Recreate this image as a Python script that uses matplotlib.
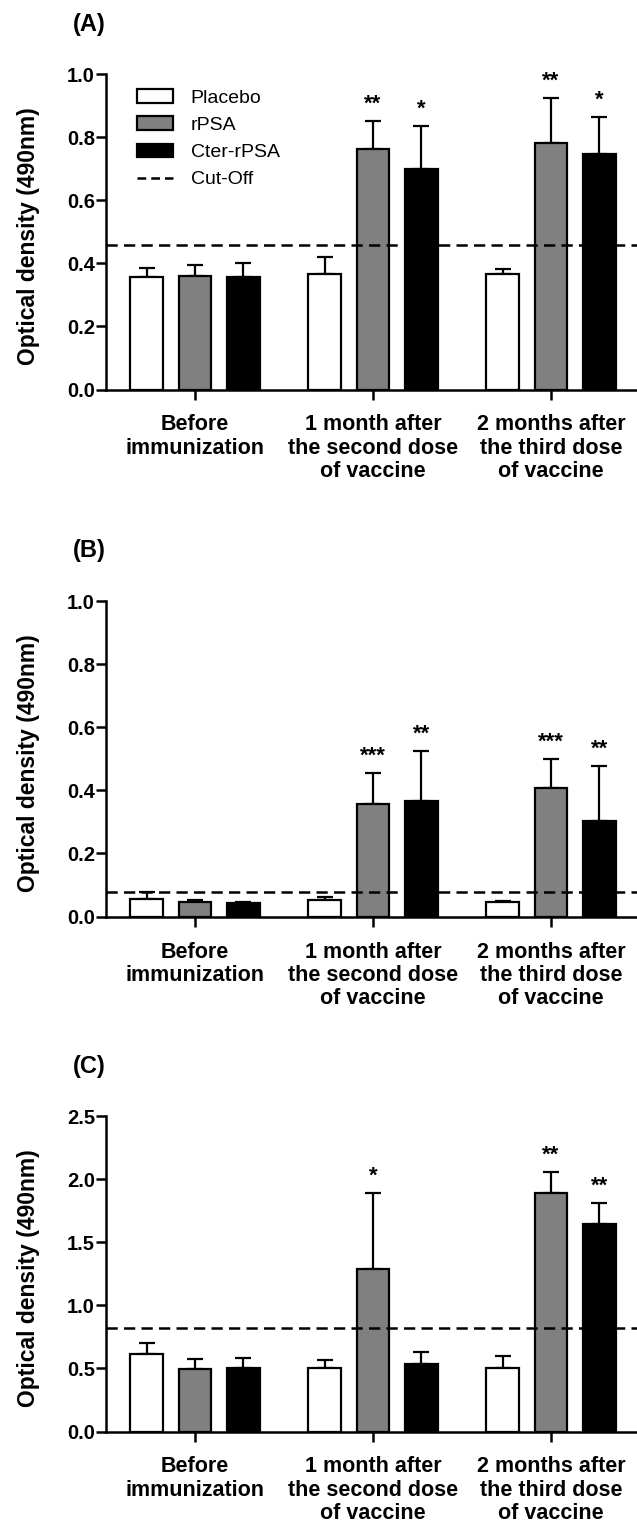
import matplotlib
matplotlib.use("Agg")
import matplotlib.pyplot as plt
from matplotlib.patches import Patch
from matplotlib.lines import Line2D
import numpy as np

plt.rcParams['font.family'] = ['Liberation Sans', 'DejaVu Sans']

groups = ["Before\nimmunization",
          "1 month after\nthe second dose\nof vaccine",
          "2 months after\nthe third dose\nof vaccine"]
series = ["Placebo", "rPSA", "Cter-rPSA"]
colors = ["white", "#808080", "black"]

# panel A
a_placebo = [0.357, 0.366, 0.366]
a_placebo_err = [0.027, 0.053, 0.015]
a_rpsa = [0.360, 0.762, 0.782]
a_rpsa_err = [0.036, 0.090, 0.142]
a_cter = [0.358, 0.699, 0.746]
a_cter_err = [0.042, 0.137, 0.119]
a_cutoff = 0.458
a_stars_rpsa = ["", "**", "**"]
a_stars_cter = ["", "*", "*"]

# panel B
b_placebo = [0.056, 0.053, 0.045]
b_placebo_err = [0.021, 0.008, 0.005]
b_rpsa = [0.045, 0.356, 0.407]
b_rpsa_err = [0.008, 0.098, 0.092]
b_cter = [0.042, 0.366, 0.303]
b_cter_err = [0.003, 0.159, 0.175]
b_cutoff = 0.079
b_stars_rpsa = ["", "***", "***"]
b_stars_cter = ["", "**", "**"]

# panel C
c_placebo = [0.615, 0.502, 0.502]
c_placebo_err = [0.085, 0.063, 0.100]
c_rpsa = [0.496, 1.288, 1.888]
c_rpsa_err = [0.077, 0.600, 0.166]
c_cter = [0.502, 0.533, 1.647]
c_cter_err = [0.084, 0.095, 0.167]
c_cutoff = 0.818
c_stars_rpsa = ["", "*", "**"]
c_stars_cter = ["", "", "**"]

W, H = 637, 1526
fig = plt.figure(figsize=(W / 100, H / 100), dpi=100)

LW = 1.8
width = 0.183
offset = 0.272


def panel(top_px, label, vals, errs, stars, cutoff, ymax, yticks, legend=False):
    bottom_px = top_px + 315.5
    ax = fig.add_axes([106.4 / W, (H - bottom_px) / H, (W - 106.4) / W, 315.5 / H])
    x = np.arange(len(groups))
    for i, (v, e, c) in enumerate(zip(vals, errs, colors)):
        pos = x + (i - 1) * offset
        ax.bar(pos, v, width, color=c, edgecolor="black", linewidth=1.6, zorder=2)
        ax.errorbar(pos, v, yerr=[np.zeros(len(e)), e], fmt="none", ecolor="black",
                    elinewidth=1.6, capsize=5.5, capthick=1.6, zorder=1)
    for i, st in ((1, stars[0]), (2, stars[1])):
        for j, s in enumerate(st):
            if s:
                ax.annotate(s, (x[j] + (i - 1) * offset, vals[i][j] + errs[i][j]),
                            xytext=(0, 8), textcoords="offset points",
                            ha="center", va="baseline", fontsize=16, fontweight="bold")
    ax.axhline(cutoff, color="black", lw=LW, linestyle=(0, (4.5, 2.5)), zorder=3)
    ax.set_xlim(-0.498, 2.483)
    ax.set_ylim(0, ymax)
    ax.set_yticks(yticks)
    ax.set_yticklabels(["%.1f" % t for t in yticks])
    ax.set_xticks(x)
    ax.set_xticklabels(groups, linespacing=1.15)
    for sp in ("top", "right"):
        ax.spines[sp].set_visible(False)
    for sp in ("left", "bottom"):
        ax.spines[sp].set_linewidth(LW)
    ax.tick_params(axis="y", direction="out", length=7.2, width=LW, pad=1, labelsize=14.5)
    ax.tick_params(axis="x", direction="out", length=7, width=LW, pad=11, labelsize=15.5)
    for t in ax.get_xticklabels() + ax.get_yticklabels():
        t.set_fontweight("bold")
    fig.text(28.5 / W, 1 - (top_px + 162) / H, "Optical density (490nm)", rotation=90,
             ha="center", va="center", fontsize=16.5, fontweight="bold")
    fig.text(73 / W, 1 - (top_px - 50) / H, label, ha="left", va="center",
             fontsize=17, fontweight="bold")
    if legend:
        handles = [Patch(facecolor=c, edgecolor="black", linewidth=1.6) for c in colors]
        handles.append(Line2D([0], [0], color="black", lw=LW, linestyle=(0, (3.5, 2))))
        ax.legend(handles, series + ["Cut-Off"], loc="upper left",
                  bbox_to_anchor=(0.058, 0.952), frameon=False, fontsize=14,
                  borderpad=0, borderaxespad=0, handlelength=1.85, handleheight=0.68,
                  handletextpad=0.9, labelspacing=0.5)
    return ax


panel(74, "(A)", [a_placebo, a_rpsa, a_cter], [a_placebo_err, a_rpsa_err, a_cter_err],
      [a_stars_rpsa, a_stars_cter], a_cutoff, 1.0, [0, 0.2, 0.4, 0.6, 0.8, 1.0], legend=True)
panel(601, "(B)", [b_placebo, b_rpsa, b_cter], [b_placebo_err, b_rpsa_err, b_cter_err],
      [b_stars_rpsa, b_stars_cter], b_cutoff, 1.0, [0, 0.2, 0.4, 0.6, 0.8, 1.0])
panel(1116, "(C)", [c_placebo, c_rpsa, c_cter], [c_placebo_err, c_rpsa_err, c_cter_err],
      [c_stars_rpsa, c_stars_cter], c_cutoff, 2.5, [0, 0.5, 1.0, 1.5, 2.0, 2.5])

fig.savefig("out.png", dpi=100)
